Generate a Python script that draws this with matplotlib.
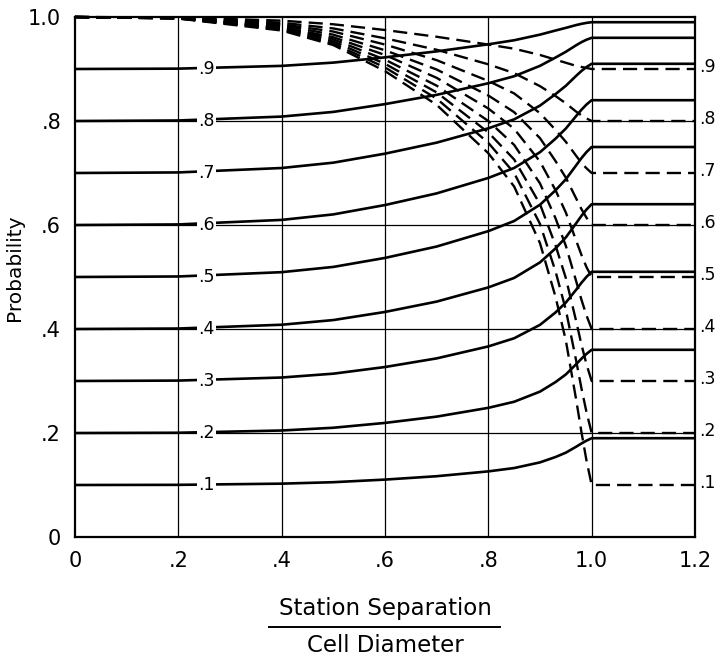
import matplotlib
matplotlib.use("Agg")
import matplotlib.pyplot as plt
from matplotlib.lines import Line2D

plt.rcParams['font.family'] = ['DejaVu Sans']

# Station separation / cell diameter at which curve values were read
x_pts = [0, 0.2, 0.4, 0.5, 0.6, 0.7, 0.8, 0.85, 0.9, 0.93, 0.95, 0.97, 0.98, 0.99, 1.0, 1.2]

# Solid curves (labelled .1 ... .9 on the left)
solid_1 = [0.100, 0.1003, 0.1026, 0.1054, 0.1104, 0.1169, 0.1262, 0.1326, 0.1435, 0.1538, 0.1622, 0.1736, 0.1797, 0.1853, 0.190, 0.190]
solid_2 = [0.200, 0.2005, 0.2048, 0.2101, 0.2194, 0.2315, 0.2484, 0.2601, 0.2796, 0.2979, 0.3126, 0.3323, 0.3426, 0.3521, 0.360, 0.360]
solid_3 = [0.300, 0.3008, 0.3067, 0.3141, 0.3269, 0.3435, 0.3665, 0.3822, 0.4080, 0.4318, 0.4508, 0.4756, 0.4886, 0.5003, 0.510, 0.510]
solid_4 = [0.400, 0.4009, 0.4082, 0.4172, 0.4328, 0.4527, 0.4800, 0.4982, 0.5281, 0.5550, 0.5761, 0.6033, 0.6173, 0.6298, 0.640, 0.640]
solid_5 = [0.500, 0.5010, 0.5093, 0.5194, 0.5367, 0.5586, 0.5882, 0.6077, 0.6390, 0.6667, 0.6879, 0.7148, 0.7283, 0.7403, 0.750, 0.750]
solid_6 = [0.600, 0.6011, 0.6098, 0.6204, 0.6384, 0.6608, 0.6905, 0.7097, 0.7400, 0.7660, 0.7855, 0.8096, 0.8214, 0.8317, 0.840, 0.840]
solid_7 = [0.700, 0.7011, 0.7096, 0.7199, 0.7372, 0.7584, 0.7859, 0.8032, 0.8296, 0.8517, 0.8677, 0.8869, 0.8960, 0.9038, 0.910, 0.910]
solid_8 = [0.800, 0.8010, 0.8085, 0.8175, 0.8325, 0.8503, 0.8726, 0.8861, 0.9061, 0.9220, 0.9331, 0.9457, 0.9515, 0.9563, 0.960, 0.960]
solid_9 = [0.900, 0.9007, 0.9060, 0.9123, 0.9224, 0.9339, 0.9475, 0.9553, 0.9661, 0.9740, 0.9791, 0.9845, 0.9868, 0.9887, 0.990, 0.990]

# Dashed curves (labelled .1 ... .9 on the right)
dashed_1 = [1.000, 0.997, 0.974, 0.946, 0.896, 0.831, 0.738, 0.674, 0.565, 0.462, 0.378, 0.264, 0.203, 0.147, 0.100, 0.100]
dashed_2 = [1.000, 0.9975, 0.976, 0.949, 0.903, 0.843, 0.758, 0.700, 0.602, 0.511, 0.437, 0.339, 0.287, 0.240, 0.200, 0.200]
dashed_3 = [1.000, 0.997, 0.978, 0.953, 0.910, 0.855, 0.778, 0.726, 0.640, 0.561, 0.498, 0.415, 0.371, 0.332, 0.300, 0.300]
dashed_4 = [1.000, 0.998, 0.980, 0.957, 0.918, 0.868, 0.800, 0.754, 0.680, 0.613, 0.560, 0.492, 0.457, 0.426, 0.400, 0.400]
dashed_5 = [1.000, 0.998, 0.981, 0.961, 0.927, 0.883, 0.824, 0.785, 0.722, 0.667, 0.624, 0.570, 0.543, 0.519, 0.500, 0.500]
dashed_6 = [1.000, 0.998, 0.984, 0.966, 0.936, 0.899, 0.849, 0.817, 0.767, 0.723, 0.691, 0.651, 0.631, 0.614, 0.600, 0.600]
dashed_7 = [1.000, 0.998, 0.986, 0.972, 0.947, 0.917, 0.877, 0.853, 0.815, 0.783, 0.760, 0.733, 0.720, 0.709, 0.700, 0.700]
dashed_8 = [1.000, 0.999, 0.989, 0.978, 0.959, 0.937, 0.909, 0.892, 0.867, 0.848, 0.834, 0.818, 0.811, 0.805, 0.800, 0.800]
dashed_9 = [1.000, 0.999, 0.993, 0.986, 0.975, 0.962, 0.947, 0.939, 0.927, 0.918, 0.912, 0.906, 0.904, 0.902, 0.900, 0.900]

curve_labels = [".1", ".2", ".3", ".4", ".5", ".6", ".7", ".8", ".9"]
curve_levels = [0.1, 0.2, 0.3, 0.4, 0.5, 0.6, 0.7, 0.8, 0.9]
label_x = 0.255

xticks = [0, 0.2, 0.4, 0.6, 0.8, 1.0, 1.2]
xtick_labels = ["0", ".2", ".4", ".6", ".8", "1.0", "1.2"]
yticks = [0, 0.2, 0.4, 0.6, 0.8, 1.0]
ytick_labels = ["0", ".2", ".4", ".6", ".8", "1.0"]

solids = [solid_1, solid_2, solid_3, solid_4, solid_5, solid_6, solid_7, solid_8, solid_9]
dasheds = [dashed_1, dashed_2, dashed_3, dashed_4, dashed_5, dashed_6, dashed_7, dashed_8, dashed_9]

fig = plt.figure(figsize=(7.16, 6.59), dpi=100)
ax = fig.add_axes([75 / 716, 122 / 659, 620 / 716, 520 / 659])
ax.set_xlim(0, 1.2)
ax.set_ylim(0, 1.0)

# grid
for gx in [0.2, 0.4, 0.6, 0.8, 1.0]:
    ax.axvline(gx, color="black", lw=0.9, zorder=1)
for gy in [0.2, 0.4, 0.6, 0.8]:
    ax.axhline(gy, color="black", lw=0.9, zorder=1)

for ys in solids:
    ax.plot(x_pts, ys, color="black", lw=1.9, solid_capstyle="butt", zorder=3)
for ys in dasheds:
    ax.plot(x_pts, ys, color="black", lw=1.7, linestyle=(0, (6.0, 3.0)), zorder=3, clip_on=False)

for lab, lev, ys in zip(curve_labels, curve_levels, solids):
    ax.text(label_x, lev, lab, ha="center", va="center", fontsize=12.5, zorder=5,
            bbox=dict(facecolor="white", edgecolor="none", pad=1.0))
    ax.text(1.208, lev + 0.004, lab, ha="left", va="center", fontsize=12.5, clip_on=False)

ax.set_xticks(xticks)
ax.set_xticklabels(xtick_labels, fontsize=15)
ax.set_yticks(yticks)
ax.set_yticklabels(ytick_labels, fontsize=15)
ax.tick_params(length=0, pad=10)
for sp in ax.spines.values():
    sp.set_linewidth(1.6)
    sp.set_color("black")

fig.text(15 / 716, 1 - 268 / 659, "Probability", rotation=90, ha="center", va="center", fontsize=14.5)
fig.text(385 / 716, 1 - 609 / 659, "Station Separation", ha="center", va="center", fontsize=16.5)
fig.text(385 / 716, 1 - 646 / 659, "Cell Diameter", ha="center", va="center", fontsize=16.5)
fig.add_artist(Line2D([269 / 716, 500 / 716], [1 - 627 / 659, 1 - 627 / 659],
                      transform=fig.transFigure, color="black", lw=1.4))

fig.savefig("out.png", dpi=100)
